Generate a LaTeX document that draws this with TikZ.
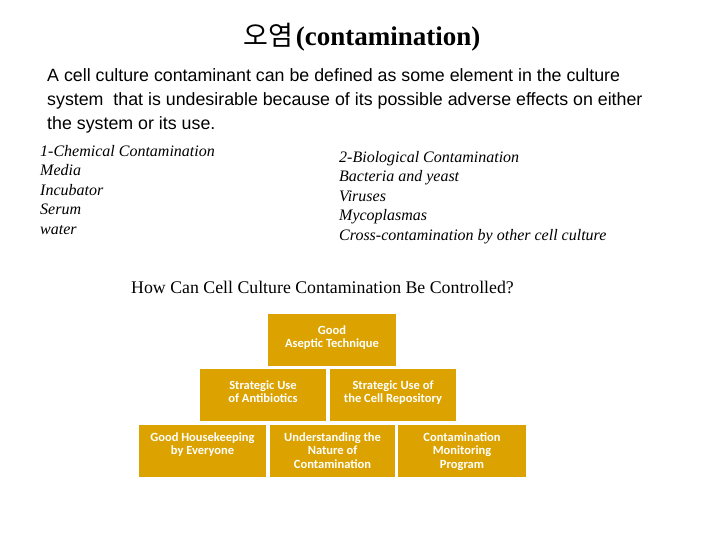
\documentclass[tikz,border=0pt]{standalone}
\usepackage{fontspec}
\setmainfont{Liberation Serif}
\newfontfamily\cjk{Noto Sans CJK KR}
\newfontfamily\arialf{Liberation Sans}
\newfontfamily\calib{Carlito}
\definecolor{gold}{HTML}{DCA300}
\begin{document}
\begin{tikzpicture}[x=1pt,y=-1pt,
  blk/.style={fill=gold,draw=none,minimum width=#1,minimum height=52pt,inner sep=0pt},
  btxt/.style={text=white,font=\calib\bfseries\fontsize{12.5}{13.5}\selectfont,align=center,anchor=north},
  ltxt/.style={anchor=north west,align=left,inner sep=0pt,font=\itshape\fontsize{16}{19.5}\selectfont}]
\useasboundingbox (0,0) rectangle (720,540);
\node (title) at (362,37) {{\cjk\fontsize{27}{30}\selectfont 오염} \fontsize{27}{30}\selectfont\bfseries(contamination)};
\node[anchor=north west,align=left,inner sep=0pt,font=\arialf\fontsize{17.8}{24}\selectfont] (para) at (47,68)
 {A cell culture contaminant can be defined as some element in the culture\\system\ \ that is undesirable because of its possible adverse effects on either\\the system or its use.};
\node[ltxt] (chem) at (40,145) {1-Chemical Contamination\\Media\\Incubator\\Serum\\water};
\node[ltxt] (bio) at (339,151) {2-Biological Contamination\\Bacteria and yeast\\Viruses\\Mycoplasmas\\Cross-contamination by other cell culture};
\node[anchor=north west,inner sep=0pt,font=\fontsize{17.8}{20}\selectfont] (q) at (131,281) {How Can Cell Culture Contamination Be Controlled?};
\node[blk=128pt] (b1) at (332,340) {};
\node[blk=126pt] (b2) at (263,395) {};
\node[blk=126pt] (b3) at (393,395) {};
\node[blk=127pt] (b4) at (202.5,451) {};
\node[blk=125pt] (b5) at (332.5,451) {};
\node[blk=128pt] (b6) at (462,451) {};
\node[btxt] (t1) at (b1.north) [yshift=-8pt] {Good\\Aseptic Technique};
\node[btxt] (t2) at (b2.north) [yshift=-8pt] {Strategic Use\\of Antibiotics};
\node[btxt] (t3) at (b3.north) [yshift=-8pt] {Strategic Use of\\the Cell Repository};
\node[btxt] (t4) at (b4.north) [yshift=-4pt] {Good Housekeeping\\by Everyone};
\node[btxt] (t5) at (b5.north) [yshift=-4pt] {Understanding the\\Nature of\\Contamination};
\node[btxt] (t6) at (b6.north) [yshift=-4pt] {Contamination\\Monitoring\\Program};
\end{tikzpicture}
\end{document}
